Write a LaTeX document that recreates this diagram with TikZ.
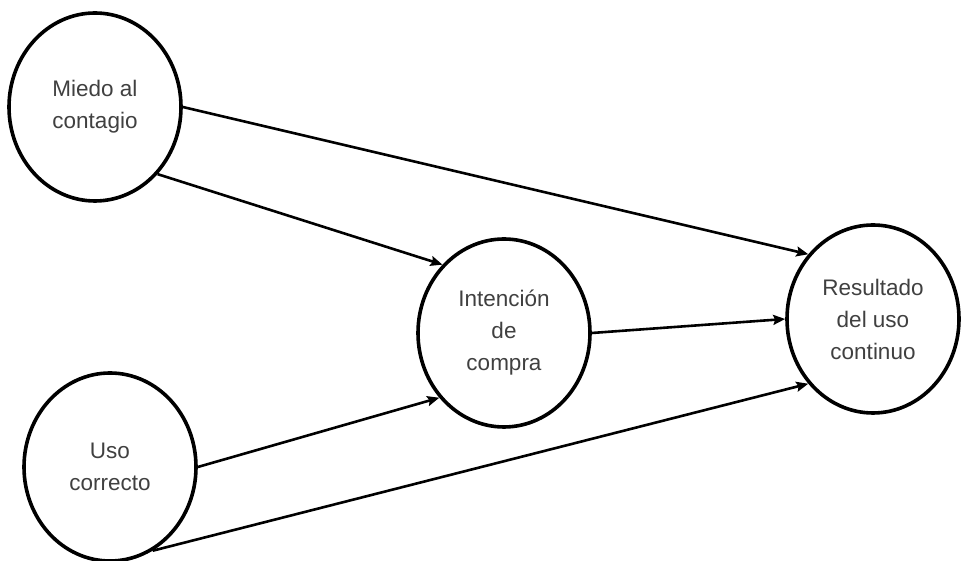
\documentclass[tikz,border=0pt]{standalone}
\usepackage{fontspec}
\setmainfont{Liberation Sans}
\usetikzlibrary{shapes.geometric,arrows.meta}
\begin{document}
\begin{tikzpicture}[x=1pt,y=1pt,
  construct/.style={ellipse, draw=black, line width=3.6pt, fill=white,
    minimum width=172pt, minimum height=188pt, inner sep=0pt,
    align=center, text=black!75, font=\fontsize{22.5}{32}\selectfont},
  path/.style={line width=2.6pt, draw=black,
    -{Stealth[length=12pt,width=10pt,inset=2pt]}}]
  \useasboundingbox (0,0) rectangle (964,561);
  \fill[white] (0,0) rectangle (964,561);

  \node[construct] (miedo) at (95,454) {Miedo al\\contagio};
  \node[construct] (uso) at (110,94) {Uso\\correcto};
  \node[construct] (intencion) at (504,228) {Intención\\de\\compra};
  \node[construct] (resultado) at (873,242) {Resultado\\del uso\\continuo};

  \draw[path] (miedo.0) -- (resultado.135);
  \draw[path] (miedo.-47) -- (intencion.132);
  \draw[path] (uso.0) -- (intencion.225);
  \draw[path] (uso.-63) -- (resultado.225);
  \draw[path] (intencion.0) -- (resultado.180);
\end{tikzpicture}
\end{document}
